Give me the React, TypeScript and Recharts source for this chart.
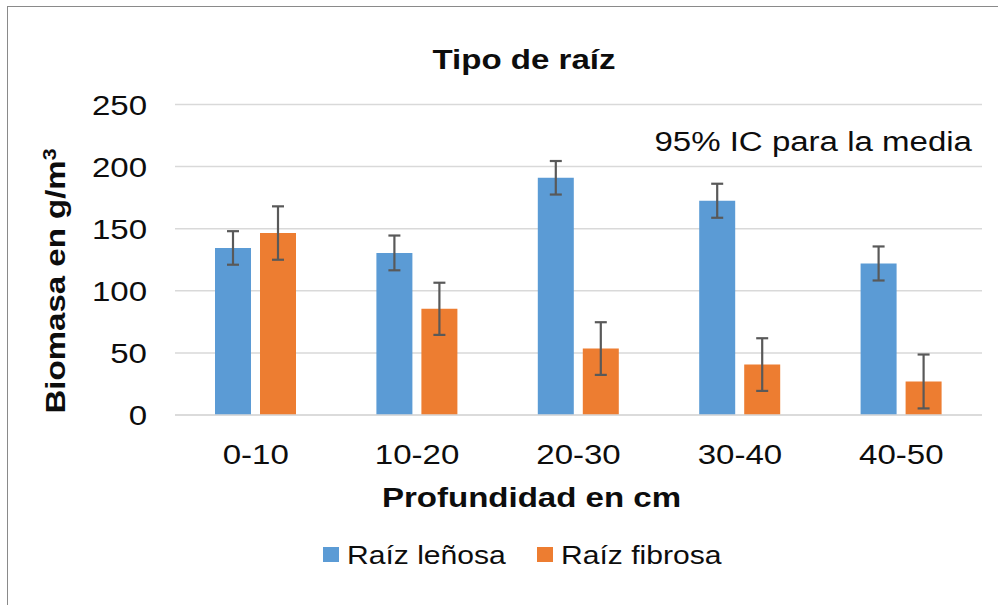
import { BarChart, Bar, XAxis, YAxis, CartesianGrid, ErrorBar, Label } from 'recharts'

const categories = ['0-10', '10-20', '20-30', '30-40', '40-50']
const lenosa = [134.5, 130.5, 191, 172.5, 122]
const lenosaErr = [13.5, 14, 13.5, 13.7, 13.7]
const fibrosa = [146.5, 85.5, 53.5, 40.6, 27]
const fibrosaErr = [21.5, 21, 21.2, 21.2, 21.7]
const yTicks = [0, 50, 100, 150, 200, 250]

const series = [
  { key: 'lenosa', err: 'lenosaErr', name: 'Raíz leñosa', color: '#5B9BD5' },
  { key: 'fibrosa', err: 'fibrosaErr', name: 'Raíz fibrosa', color: '#ED7D31' },
]

const data = categories.map((c, i) => ({
  cat: c,
  lenosa: lenosa[i], lenosaErr: lenosaErr[i],
  fibrosa: fibrosa[i], fibrosaErr: fibrosaErr[i],
}))

// the source text is stretched along its baseline
const ST = 1.18
const FONT = "'Liberation Sans', Arial, sans-serif"

function SText({ x, y, size = 28, bold = false, anchor = 'middle', rotate = 0, children }: any) {
  return (
    <text transform={`translate(${x},${y}) rotate(${rotate}) scale(${ST},1)`}
      textAnchor={anchor} fontSize={size} fontWeight={bold ? 700 : 400}
      fill="#0d0d0d" fontFamily={FONT}>
      {children}
    </text>
  )
}

function Extras() {
  const lx = [315, 529]
  return (
    <g>
      <SText x={516} y={62} bold>Tipo de raíz</SText>
      <SText x={964} y={144} anchor="end">95% IC para la media</SText>
      <SText x={523.5} y={500} bold>Profundidad en cm</SText>
      <SText x={57} y={274} bold rotate={-90}>
        Biomasa en g/m<tspan fontSize={18} dy={-9}>3</tspan>
      </SText>
      {series.map((s, i) => (
        <g key={s.key}>
          <rect x={lx[i]} y={540} width={16} height={15} fill={s.color} />
          <SText x={lx[i] + 24} y={557} size={25.5} anchor="start">{s.name}</SText>
        </g>
      ))}
    </g>
  )
}

export default function App() {
  return (
    <div style={{ position: 'absolute', left: 7, top: 6, borderTop: '1px solid #8a8a8a', borderLeft: '1px solid #8a8a8a', background: '#fff' }}>
      <BarChart width={990} height={598} data={data} barGap={9}
        margin={{ top: 97.5, right: 16, bottom: 150, left: 0 }}>
        <CartesianGrid vertical={false} stroke="#d9d9d9" strokeWidth={1.5} />
        <XAxis dataKey="cat" height={40} tickSize={0} tickMargin={0}
          axisLine={{ stroke: '#d9d9d9', strokeWidth: 1.5 }} tickLine={false}
          tick={(p: any) => <SText x={p.x} y={p.y + 49}>{p.payload.value}</SText>}>
          <Label content={() => <Extras />} />
        </XAxis>
        <YAxis width={167} domain={[0, 250]} ticks={yTicks} tickSize={0} tickMargin={28}
          axisLine={false} tickLine={false}
          tick={(p: any) => <SText x={p.x} y={p.y + 10} anchor="end">{p.payload.value}</SText>} />
        {series.map(s => (
          <Bar key={s.key} dataKey={s.key} name={s.name} fill={s.color} barSize={36} isAnimationActive={false}>
            <ErrorBar dataKey={s.err} width={6} stroke="#595959" strokeWidth={2.2} />
          </Bar>
        ))}
      </BarChart>
    </div>
  )
}
